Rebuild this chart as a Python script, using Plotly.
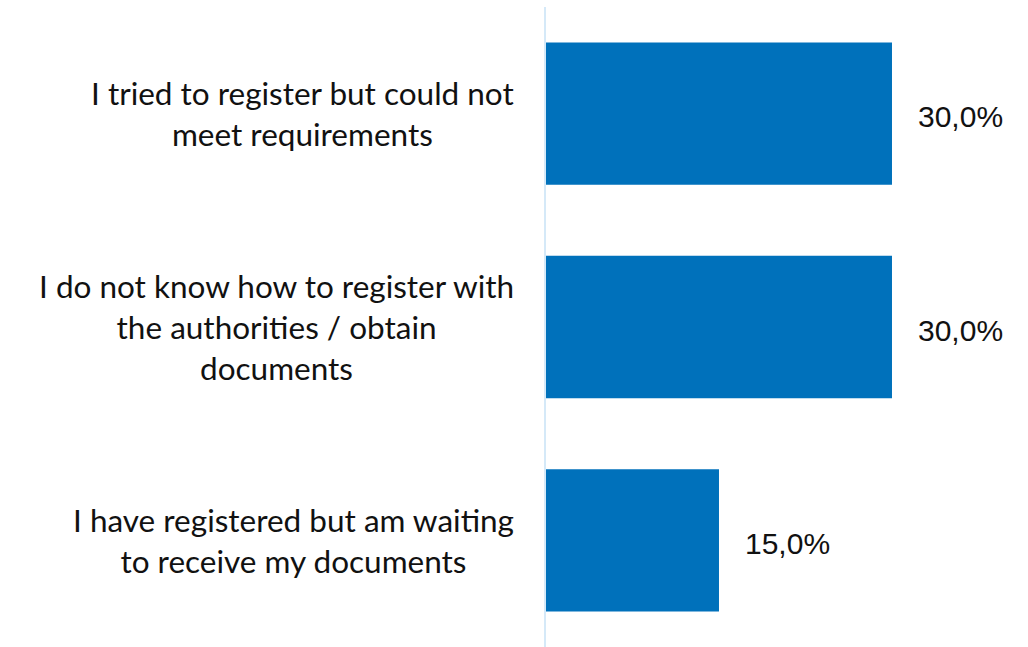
import plotly.graph_objects as go

categories = [
    "I tried to register but could not<br>meet requirements",
    "I do not know how to register with<br>the authorities / obtain<br>documents",
    "I have registered but am waiting<br>to receive my documents",
]
values = [30.0, 30.0, 15.0]
value_labels = [f"{v:.1f}".replace(".", ",") + "%" for v in values]

BAR_COLOR = "#0071bb"
AXIS_COLOR = "#d5e9f8"

fig = go.Figure(
    go.Bar(
        x=values,
        y=categories,
        orientation="h",
        marker=dict(color=BAR_COLOR, line=dict(width=0)),
        hoverinfo="skip",
    )
)

annotations = []
# Category labels, centred line by line, to the left of the axis
for cat in categories:
    annotations.append(dict(
        x=0, y=cat, xref="x", yref="y",
        text=cat, showarrow=False,
        xanchor="right", yanchor="middle", align="center",
        xshift=-30,
        font=dict(family="Lato", size=31.5, color="#111111"),
    ))
# Value labels just past the end of each bar
for cat, v, lab in zip(categories, values, value_labels):
    annotations.append(dict(
        x=v, y=cat, xref="x", yref="y",
        text=lab, showarrow=False,
        xanchor="left", yanchor="middle",
        xshift=24, yshift=-3,
        font=dict(family="Liberation Sans, Arial", size=30, color="#111111"),
    ))

fig.update_layout(
    width=1028, height=647,
    margin=dict(l=546, r=8, t=7, b=0),
    paper_bgcolor="white", plot_bgcolor="white",
    bargap=0.333,
    showlegend=False,
    annotations=annotations,
    xaxis=dict(range=[0, 41.1], visible=False, fixedrange=True),
    yaxis=dict(
        autorange="reversed",
        showticklabels=False,
        ticks="",
        showgrid=False,
        zeroline=False,
        showline=True,
        linecolor=AXIS_COLOR,
        linewidth=2,
        fixedrange=True,
    ),
)

fig.write_html("out.html", config={"displayModeBar": False})
